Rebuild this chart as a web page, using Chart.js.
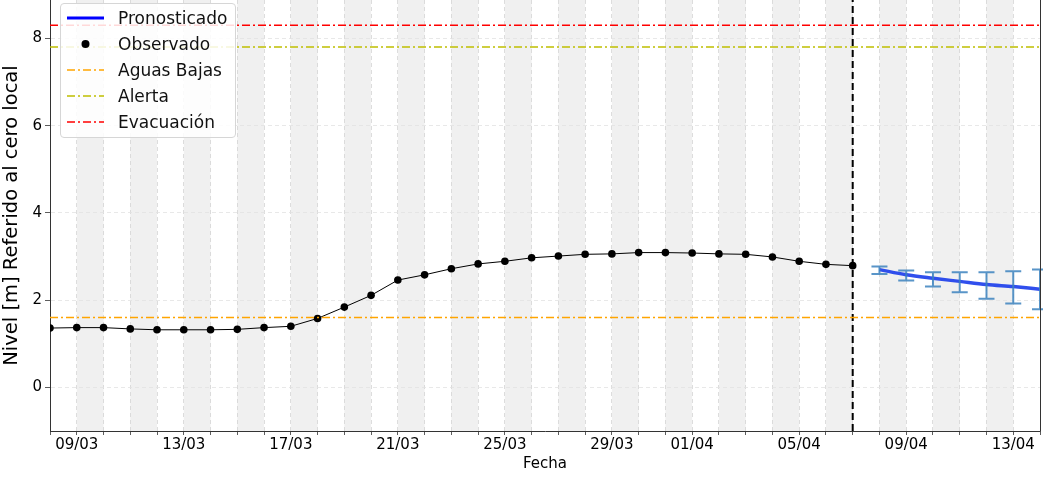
<!DOCTYPE html>
<html>
<head>
<meta charset="utf-8">
<script src="https://cdn.jsdelivr.net/npm/chart.js@4"></script>
<style>
  body { margin: 0; background: #fff; font-family: "DejaVu Sans", sans-serif; }
  #wrap { position: relative; width: 1043px; height: 477px; }
  #legend {
    position: absolute; left: 60px; top: 3px; width: 176px; height: 135px;
    box-sizing: border-box; padding-top: 1px;
    border: 1px solid #d6d6d6; border-radius: 4px; background: rgba(255,255,255,0.85);
    font-size: 17px; color: #111;
  }
  .row { display: flex; align-items: center; height: 26px; }
  .row svg { margin-left: 5px; flex: none; }
  .row span { margin-left: 13px; white-space: nowrap; }
</style>
</head>
<body>
<div id="wrap">
  <canvas id="chart" width="1043" height="477"></canvas>
  <div id="legend"></div>
</div>
<script>
const dayLabels = [
  "08/03", "09/03", "10/03", "11/03", "12/03", "13/03", "14/03", "15/03", "16/03", "17/03",
  "18/03", "19/03", "20/03", "21/03", "22/03", "23/03", "24/03", "25/03", "26/03", "27/03",
  "28/03", "29/03", "30/03", "31/03", "01/04", "02/04", "03/04", "04/04", "05/04", "06/04",
  "07/04", "08/04", "09/04", "10/04", "11/04", "12/04", "13/04", "14/04"
];
const labeledDays = [1, 5, 9, 13, 17, 21, 24, 28, 32, 36];
const shadedDays = [1, 3, 5, 7, 9, 11, 13, 15, 17, 19, 21, 23, 25, 27, 29, 31, 33, 35];
const yTicks = [0, 2, 4, 6, 8];

const observedLevels = [
  1.36, 1.37, 1.37, 1.34, 1.32, 1.32, 1.32, 1.33, 1.37, 1.40,
  1.58, 1.84, 2.11, 2.46, 2.58, 2.72, 2.83, 2.89, 2.97, 3.01,
  3.05, 3.06, 3.09, 3.09, 3.08, 3.06, 3.05, 2.99, 2.89, 2.82, 2.79
];
const forecastStart = 31;
const forecastLevels = [2.70, 2.58, 2.50, 2.43, 2.36, 2.31, 2.25];
const forecastLow = [2.60, 2.45, 2.31, 2.18, 2.03, 1.92, 1.79];
const forecastHigh = [2.77, 2.68, 2.64, 2.64, 2.64, 2.66, 2.70];
const lastObservedDay = 30;

const aguasBajas = 1.6;
const alerta = 7.8;
const evacuacion = 8.3;

const yMin = -1.0, yMax = 8.88;
const dashDot = [8, 3, 2, 3];

function hline(label, value, color) {
  return {
    label, data: [{ x: 0, y: value }, { x: dayLabels.length - 1, y: value }],
    borderColor: color, borderWidth: 1.5, borderDash: dashDot, pointRadius: 0,
  };
}

// alternating day shading, drawn under the grid
const bandsPlugin = {
  id: "bands",
  beforeDraw(chart) {
    const { ctx, chartArea: a, scales: { x } } = chart;
    ctx.save();
    ctx.fillStyle = "#f0f0f0";
    shadedDays.forEach((d) => {
      const x0 = x.getPixelForValue(d), x1 = x.getPixelForValue(d + 1);
      ctx.fillRect(x0, a.top, x1 - x0, a.bottom - a.top);
    });
    ctx.restore();
  },
};

const errorBarPlugin = {
  id: "errbars",
  afterDatasetsDraw(chart) {
    const { ctx, scales: { x, y } } = chart;
    ctx.save();
    ctx.strokeStyle = "rgba(60,130,190,0.85)";
    ctx.lineWidth = 2;
    forecastLow.forEach((lo, i) => {
      const px = x.getPixelForValue(forecastStart + i);
      const yl = y.getPixelForValue(lo), yh = y.getPixelForValue(forecastHigh[i]);
      ctx.beginPath();
      ctx.moveTo(px, yl); ctx.lineTo(px, yh);
      ctx.moveTo(px - 8, yl); ctx.lineTo(px + 8, yl);
      ctx.moveTo(px - 8, yh); ctx.lineTo(px + 8, yh);
      ctx.stroke();
    });
    ctx.restore();
  },
  afterDraw(chart) {
    const { ctx, chartArea: a } = chart;
    ctx.save();
    ctx.strokeStyle = "#333";
    ctx.lineWidth = 1;
    ctx.beginPath();
    ctx.moveTo(a.right + 0.5, a.top);
    ctx.lineTo(a.right + 0.5, a.bottom);
    ctx.stroke();
    ctx.restore();
  },
};

Chart.defaults.font.family = '"DejaVu Sans", sans-serif';
Chart.defaults.color = "#000";

new Chart(document.getElementById("chart"), {
  type: "line",
  data: {
    datasets: [
      hline("Aguas Bajas", aguasBajas, "#ffa500"),
      hline("Alerta", alerta, "#bfbf00"),
      hline("Evacuación", evacuacion, "#ff0000"),
      {
        label: "Observado",
        data: observedLevels.map((v, i) => ({ x: i, y: v })),
        borderColor: "#000", borderWidth: 1, backgroundColor: "#000",
        pointRadius: 3.8, pointBorderWidth: 0,
      },
      {
        label: "límite",
        data: [{ x: lastObservedDay, y: yMin }, { x: lastObservedDay, y: yMax }],
        borderColor: "#000", borderWidth: 2, borderDash: [7, 4], pointRadius: 0,
      },
      {
        label: "Pronosticado",
        data: forecastLevels.map((v, i) => ({ x: forecastStart + i, y: v })),
        borderColor: "rgba(25,60,235,0.9)", borderWidth: 3.5, pointRadius: 0,
        cubicInterpolationMode: "monotone",
      },
    ],
  },
  options: {
    responsive: false,
    animation: false,
    layout: { autoPadding: false, padding: { top: 0, right: 3, left: 0, bottom: 0 } },
    plugins: { legend: { display: false }, tooltip: { enabled: false } },
    scales: {
      x: {
        type: "linear", min: 0, max: dayLabels.length - 1,
        afterBuildTicks: (s) => { s.ticks = dayLabels.map((_, i) => ({ value: i })); },
        afterFit: (s) => { s.height = 46; s.paddingLeft = 0; s.paddingRight = 0; },
        ticks: {
          autoSkip: false, maxRotation: 0, padding: 1,
          font: { size: 15 },
          callback: (v) => (labeledDays.includes(v) ? dayLabels[v] : ""),
        },
        grid: { color: "#d4d4d4", lineWidth: 0.8, tickLength: 4, tickColor: "#333" },
        border: { display: true, color: "#333", width: 1, dash: [4, 3] },
        title: { display: true, text: "Fecha", font: { size: 15 }, padding: { top: 0, bottom: 4 } },
      },
      y: {
        min: yMin, max: yMax,
        afterBuildTicks: (s) => { s.ticks = yTicks.map((v) => ({ value: v })); },
        afterFit: (s) => { s.width = 50; s.paddingTop = 0; s.paddingBottom = 0; },
        ticks: { font: { size: 15 }, padding: 3 },
        grid: { color: "#e2e2e2", lineWidth: 0.8, tickLength: 5, tickColor: "#333" },
        border: { display: true, color: "#333", width: 1, dash: [4, 3] },
        title: { display: true, text: "Nivel [m] Referido al cero local", font: { size: 19.5 }, padding: { top: 0, bottom: 2 } },
      },
    },
  },
  plugins: [bandsPlugin, errorBarPlugin],
});

// legend box inside the plot, matplotlib style
const legendItems = [
  { label: "Pronosticado", svg: '<line x1="1" y1="10" x2="38" y2="10" stroke="#0000ff" stroke-width="3"/>' },
  { label: "Observado", svg: '<circle cx="19.5" cy="10" r="4" fill="#000"/>' },
  { label: "Aguas Bajas", svg: '<line x1="1" y1="10" x2="38" y2="10" stroke="#ffa500" stroke-width="1.5" stroke-dasharray="8 3 2 3"/>' },
  { label: "Alerta", svg: '<line x1="1" y1="10" x2="38" y2="10" stroke="#bfbf00" stroke-width="1.5" stroke-dasharray="8 3 2 3"/>' },
  { label: "Evacuación", svg: '<line x1="1" y1="10" x2="38" y2="10" stroke="#ff0000" stroke-width="1.5" stroke-dasharray="8 3 2 3"/>' },
];
document.getElementById("legend").innerHTML = legendItems
  .map((it) => `<div class="row"><svg width="39" height="20">${it.svg}</svg><span>${it.label}</span></div>`)
  .join("");
</script>
</body>
</html>
